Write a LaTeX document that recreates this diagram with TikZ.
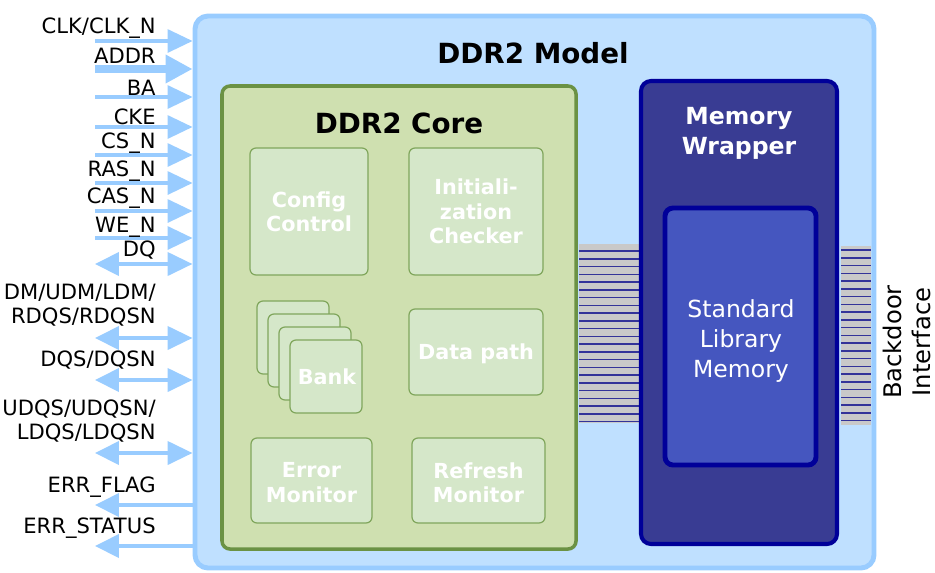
\documentclass[tikz,border=0pt]{standalone}
\usepackage{fontspec}
\setmainfont{DejaVu Sans}
\usepackage{tikz}
\usetikzlibrary{arrows.meta,fit}

\definecolor{modelfill}{HTML}{BFE0FF}
\definecolor{modelline}{HTML}{99CCFF}
\definecolor{corefill}{HTML}{CFE0B0}
\definecolor{coreline}{HTML}{6B9244}
\definecolor{blkfill}{HTML}{D5E7C9}
\definecolor{blkline}{HTML}{80A65C}
\definecolor{wrapfill}{HTML}{393C93}
\definecolor{wrapline}{HTML}{000099}
\definecolor{memfill}{HTML}{4556BF}
\definecolor{busgray}{HTML}{C9C9C9}
\definecolor{busline}{HTML}{333399}
\definecolor{sigblue}{HTML}{99CCFF}

\tikzstyle{model}=[draw=modelline, fill=modelfill, line width=2.8pt, rounded corners=0.26cm, inner sep=0pt]
\tikzstyle{core}=[draw=coreline, fill=corefill, line width=2pt, rounded corners=0.16cm, inner sep=0pt]
\tikzstyle{blk}=[draw=blkline, fill=blkfill, line width=0.7pt, rounded corners=0.12cm, inner sep=0pt]
\tikzstyle{blktext}=[inner sep=0pt, text=white, align=center, font=\bfseries\fontsize{11.8}{13.9}\selectfont]
\tikzstyle{wrap}=[draw=wrapline, fill=wrapfill, line width=2.3pt, rounded corners=0.2cm, inner sep=0pt]
\tikzstyle{mem}=[draw=wrapline, fill=memfill, line width=2.8pt, rounded corners=0.16cm, inner sep=0pt]
\tikzstyle{memtext}=[inner sep=0pt, text=white, align=center, font=\fontsize{13.4}{16.8}\selectfont]
\tikzstyle{title}=[inner sep=0pt, font=\bfseries\fontsize{15.8}{18}\selectfont]
\tikzstyle{siglabel}=[anchor=east, inner sep=0pt, align=right, font=\fontsize{12}{14}\selectfont]
\tikzstyle{sig}=[draw=sigblue, line width=1.9pt, -{Triangle[length=0.5cm,width=0.46cm]}]
\tikzstyle{wide}=[draw=sigblue, line width=5pt, -{Triangle[length=0.54cm,width=0.54cm]}]
\tikzstyle{bidir}=[draw=sigblue, line width=2.3pt, {Triangle[length=0.48cm,width=0.46cm]}-{Triangle[length=0.5cm,width=0.46cm]}]
\tikzstyle{sigout}=[draw=sigblue, line width=2.3pt, -{Triangle[length=0.48cm,width=0.46cm]}]
\tikzstyle{bus}=[fill=busgray]
\tikzstyle{stripe}=[draw=busline, line width=0.85pt]

\begin{document}
\begin{tikzpicture}[x=0.02cm, y=-0.02cm]
	\useasboundingbox (0,0) rectangle (935,572);

	%The model frame
	\node[model, fit={(195,16) (874,568)}] (model) {};
	\draw (533,53) node[title] (t-model) {DDR2 Model};

	%The buses to the wrapper and the backdoor
	\fill[bus] (579,244) rectangle (639,423);
	\fill[bus] (841,246) rectangle (871,425);
	\foreach \i in {0,...,22} {
		\draw[stripe] (579,251+7.75*\i) -- (639,251+7.75*\i);
		\draw[stripe] (841,250+7.75*\i) -- (871,250+7.75*\i);
	}

	%The core
	\node[core, fit={(222,86) (576,549)}] (core) {};
	\draw (399,123) node[title] (t-core) {DDR2 Core};

	\node[blk, fit={(250,148) (368,275)}] (cfg) {};
	\node[blk, fit={(409,148) (543,275)}] (init) {};
	\node[blk, fit={(257,301) (329,374)}] (bank1) {};
	\node[blk, fit={(268,314) (340,387)}] (bank2) {};
	\node[blk, fit={(279,327) (351,400)}] (bank3) {};
	\node[blk, fit={(290,340) (362,413)}] (bank4) {};
	\node[blk, fit={(409,309) (543,395)}] (dpath) {};
	\node[blk, fit={(251,438) (372,523)}] (err) {};
	\node[blk, fit={(412,438) (545,523)}] (refr) {};

	\node[blktext] (t-cfg) at (cfg) {Config\\Control};
	\node[blktext] (t-init) at (init) {Initiali-\\zation\\Checker};
	\node[blktext] (t-bank) at (327,377) {Bank};
	\node[blktext] (t-dpath) at ([yshift=-0.04cm]dpath.center) {Data path};
	\node[blktext] (t-err) at ([yshift=-0.04cm]err.center) {Error\\Monitor};
	\node[blktext] (t-refr) at ([yshift=-0.04cm]refr.center) {Refresh\\Monitor};

	%The wrapper
	\node[wrap, fit={(641,81) (837,544)}] (wrap) {};
	\draw (739,133) node[title, text=white, align=center, font=\bfseries\fontsize{13.4}{17}\selectfont] (t-wrap) {Memory\\Wrapper};
	\node[mem, fit={(665,208) (816,465)}] (mem) {};
	\node[memtext] (t-mem) at (741,341) {Standard\\Library\\Memory};

	\draw (907,342) node[rotate=90, align=center, inner sep=0pt, font=\fontsize{13.8}{16.5}\selectfont] (backdoor) {Backdoor\\Interface};

	%The pins
	\coordinate (s-clk) at (95,41);
	\coordinate (s-addr) at (95,69);
	\coordinate (s-ba) at (95,97);
	\coordinate (s-cke) at (95,127);
	\coordinate (s-cs) at (95,155);
	\coordinate (s-ras) at (95,183);
	\coordinate (s-cas) at (95,211);
	\coordinate (s-we) at (95,238);
	\coordinate (s-dq) at (95,264);
	\coordinate (s-dm) at (95,338);
	\coordinate (s-dqs) at (95,380);
	\coordinate (s-udqs) at (95,453);
	\coordinate (s-flag) at (95,505);
	\coordinate (s-status) at (95,546);

	\draw[sig] (s-clk) -- (s-clk -| model.west);
	\draw[wide] (s-addr) -- (s-addr -| model.west);
	\draw[sig] (s-ba) -- (s-ba -| model.west);
	\draw[sig] (s-cke) -- (s-cke -| model.west);
	\draw[sig] (s-cs) -- (s-cs -| model.west);
	\draw[sig] (s-ras) -- (s-ras -| model.west);
	\draw[sig] (s-cas) -- (s-cas -| model.west);
	\draw[sig] (s-we) -- (s-we -| model.west);
	\draw[bidir] (s-dq) -- (s-dq -| model.west);
	\draw[bidir] (s-dm) -- (s-dm -| model.west);
	\draw[bidir] (s-dqs) -- (s-dqs -| model.west);
	\draw[bidir] (s-udqs) -- (s-udqs -| model.west);
	\draw[sigout] (s-flag -| model.west) -- (s-flag);
	\draw[sigout] (s-status -| model.west) -- (s-status);

	\draw (156,28) node[siglabel] (l-clk) {CLK/CLK\_N};
	\draw (156,56) node[siglabel] (l-addr) {ADDR};
	\draw (156,88) node[siglabel] (l-ba) {BA};
	\draw (156,117) node[siglabel] (l-cke) {CKE};
	\draw (156,143) node[siglabel] (l-cs) {CS\_N};
	\draw (156,171) node[siglabel] (l-ras) {RAS\_N};
	\draw (156,198) node[siglabel] (l-cas) {CAS\_N};
	\draw (156,227) node[siglabel] (l-we) {WE\_N};
	\draw (156,250) node[siglabel] (l-dq) {DQ};
	\draw (156,305) node[siglabel] (l-dm) {DM/UDM/LDM/\\RDQS/RDQSN};
	\draw (156,360) node[siglabel] (l-dqs) {DQS/DQSN};
	\draw (156,421) node[siglabel] (l-udqs) {UDQS/UDQSN/\\LDQS/LDQSN};
	\draw (156,487) node[siglabel] (l-flag) {ERR\_FLAG};
	\draw (156,528) node[siglabel] (l-status) {ERR\_STATUS};
\end{tikzpicture}
\end{document}
